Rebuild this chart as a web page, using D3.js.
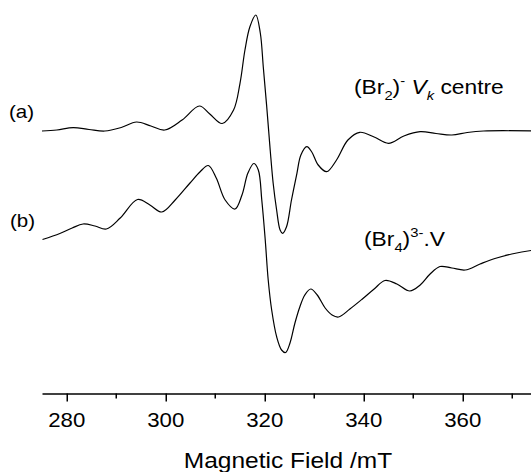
<!DOCTYPE html>
<html>
<head>
<meta charset="utf-8">
<script src="https://cdn.jsdelivr.net/npm/d3@7"></script>
<style>
  html, body { margin: 0; padding: 0; background: #fff; }
  svg { display: block; }
  text { font-family: "Liberation Sans", Arial, Helvetica, sans-serif; fill: #000; }
</style>
</head>
<body>
<svg id="chart" width="531" height="472"></svg>
<script>
// EPR derivative spectra, field in mT, intensity in arbitrary units
const fieldA = [275.0, 278.0, 281.3, 284.5, 287.7, 291.0, 294.1, 297.0, 299.8, 303.3,
  306.8, 308.9, 311.4, 313.7, 315.0, 316.0, 317.0, 318.2, 319.1, 319.7,
  320.4, 321.1, 321.7, 322.4, 323.1, 323.6, 324.4, 325.4, 326.5, 327.3,
  328.5, 329.5, 330.8, 332.5, 334.5, 336.8, 339.2, 342.1, 345.0, 348.1,
  351.4, 354.6, 357.8, 360.9, 364.2, 375.0];
const intensityA = [0, 1, 3.3, 1.5, 0, 3.5, 9, 5, 1, 11,
  25, 17, 7.5, 21, 47.7, 81, 104.3, 116, 98, 64.3,
  24.3, -19, -52.3, -79, -99, -102.3, -95.7, -69, -42.3, -24,
  -15.7, -21, -34, -40.7, -29, -9, -1.3, -6, -12.3, -5,
  -0.7, -2.5, -4, -1.5, 0, 0];

const fieldB = [275.1, 278.6, 281.1, 283.3, 285.7, 288.0, 290.8, 294.3, 296.8, 299.2,
  301.9, 304.9, 306.9, 308.6, 310.2, 312.0, 314.0, 315.4, 316.6, 317.8,
  318.7, 319.4, 320.1, 320.7, 321.4, 322.4, 323.4, 324.2, 325.1, 326.1,
  327.1, 328.1, 329.3, 330.6, 332.2, 333.6, 334.9, 337.2, 339.6, 342.1,
  344.3, 346.7, 349.3, 351.4, 353.4, 355.4, 357.8, 360.5, 363.5, 366.5,
  369.9, 373.8, 375.0];
const intensityB = [11.5, 17.5, 23, 27, 25, 22, 33, 51.5, 46, 39,
  51, 68, 79, 85.5, 73, 51, 42, 56, 78, 87.5,
  81, 51, 11, -29, -59, -85.7, -99, -101.5, -92, -72,
  -55.7, -44, -38, -44, -57, -64, -66, -58, -48.5, -38,
  -29.5, -33, -40, -34, -23, -15.5, -17, -19, -13, -7.5,
  -3, 0.5, 1];

const offsetA = 0;
const offsetB = -120;

const majorTicks = [280, 300, 320, 340, 360];
const minorTicks = [290, 310, 330, 350, 370];
const xTitle = "Magnetic Field /mT";

const svg = d3.select("#chart");
const axisY = 393.5;

const x = d3.scaleLinear().domain([275, 375]).range([42, 537]);
const y = d3.scaleLinear().domain([-262.5, 131]).range([393.5, 0]);

const line = d3.line()
  .x(d => x(d[0]))
  .y(d => y(d[1]))
  .curve(d3.curveCatmullRom.alpha(0.5));

function drawTrace(fields, values, offset) {
  const pts = fields.map((f, i) => [f, values[i] + offset]);
  svg.append("path")
    .attr("d", line(pts))
    .attr("fill", "none")
    .attr("stroke", "#000")
    .attr("stroke-width", 1.2)
    .attr("stroke-linejoin", "round");
}
drawTrace(fieldA, intensityA, offsetA);
drawTrace(fieldB, intensityB, offsetB);

// bottom axis: major ticks labelled, minor ticks between
const axisG = svg.append("g").attr("transform", `translate(0,${axisY})`);
axisG.call(d3.axisBottom(x).tickValues(majorTicks).tickSize(8).tickSizeOuter(0).tickFormat(() => ""));
axisG.select(".domain").attr("stroke-width", 1.5);
axisG.selectAll(".tick line").attr("stroke-width", 1.5);

axisG.selectAll(".minor").data(minorTicks).enter().append("line")
  .attr("class", "minor")
  .attr("x1", d => x(d)).attr("x2", d => x(d))
  .attr("y1", 0).attr("y2", 5)
  .attr("stroke", "#000").attr("stroke-width", 1.5);

const SX = 1.14;
function hText(px, py, size) {
  return svg.append("text")
    .attr("transform", `translate(${px},${py}) scale(${SX},1)`)
    .attr("font-size", size);
}

majorTicks.forEach(v => {
  hText(x(v), 427, 19.5).attr("text-anchor", "middle").text(v);
});

hText(288, 467.5, 21.5).attr("text-anchor", "middle").text(xTitle);

hText(9, 117.5, 18).text("(a)");
hText(10, 227, 18).text("(b)");

// (Br2)- Vk centre
const t1 = hText(354, 94, 20);
t1.append("tspan").text("(Br");
t1.append("tspan").attr("font-size", 13).attr("dy", 6).text("2");
t1.append("tspan").attr("dy", -6).text(")");
t1.append("tspan").attr("font-size", 13).attr("dy", -9).text("-");
t1.append("tspan").attr("dy", 9).text("  ");
t1.append("tspan").attr("font-style", "italic").text("V");
t1.append("tspan").attr("font-size", 13).attr("font-style", "italic").attr("dy", 6).text("k");
t1.append("tspan").attr("dy", -6).text(" centre");

// (Br4)3-.V
const t2 = hText(364, 246, 20);
t2.append("tspan").text("(Br");
t2.append("tspan").attr("font-size", 13).attr("dy", 6).text("4");
t2.append("tspan").attr("dy", -6).text(")");
t2.append("tspan").attr("font-size", 13).attr("dy", -9).text("3-");
t2.append("tspan").attr("dy", 9).text(".V");
</script>
</body>
</html>
